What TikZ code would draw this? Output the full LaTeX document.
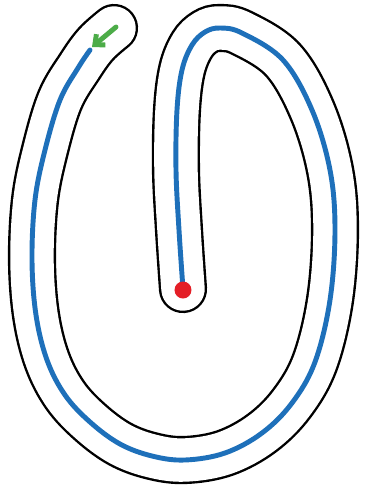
\documentclass[tikz,border=0pt]{standalone}
\usepackage{tikz}
\usetikzlibrary{arrows.meta}
\definecolor{traceblue}{RGB}{30,112,186}
\definecolor{dotred}{RGB}{228,30,38}
\definecolor{arrowgreen}{RGB}{76,172,72}

\begin{document}
\begin{tikzpicture}[x=0.02cm,y=-0.02cm,
    tube/.style={line width=1.36pt, double=white, double distance=24.7pt, line cap=round},
    trace/.style={traceblue, line width=2.8pt, line cap=round}]
    \useasboundingbox (0,0) rectangle (367,495);

    % 笔画轮廓
    \draw[tube] plot[smooth, tension=0.6] coordinates {(183,289) (179,230) (176,170) (177,110) (182,70) (192,45) (205,32) (220,28) (242,33) (283,60) (312,110) (330,170) (335,230) (330,300) (315,362) (292,403) (262,433) (225,453) (185,460) (152,456) (120,444) (90,422) (65,395) (47,360) (36,315) (32,260) (35,200) (45,150) (60,100) (80,66) (96,44) (114,28)};

    % 描线路径
    \draw[trace] plot[smooth, tension=0.6] coordinates {(183,289) (179,230) (176,170) (177,110) (182,70) (192,45) (205,32) (220,28) (242,33) (283,60) (312,110) (330,170) (335,230) (330,300) (315,362) (292,403) (262,433) (225,453) (185,460) (152,456) (120,444) (90,422) (65,395) (47,360) (36,315) (32,260) (35,200) (45,150) (60,100) (78,68) (90,50)};

    % 起点
    \coordinate (start) at (183,290);
    \fill[dotred] (start) circle (8.5);

    % 方向箭头
    \coordinate (arrowtail) at (116,27);
    \coordinate (arrowtip) at (92,47);
    \draw[arrowgreen, line width=2.8pt, line cap=round, -{Straight Barb[length=4.5pt,width=8pt]}] (arrowtail) -- (arrowtip);
\end{tikzpicture}
\end{document}
